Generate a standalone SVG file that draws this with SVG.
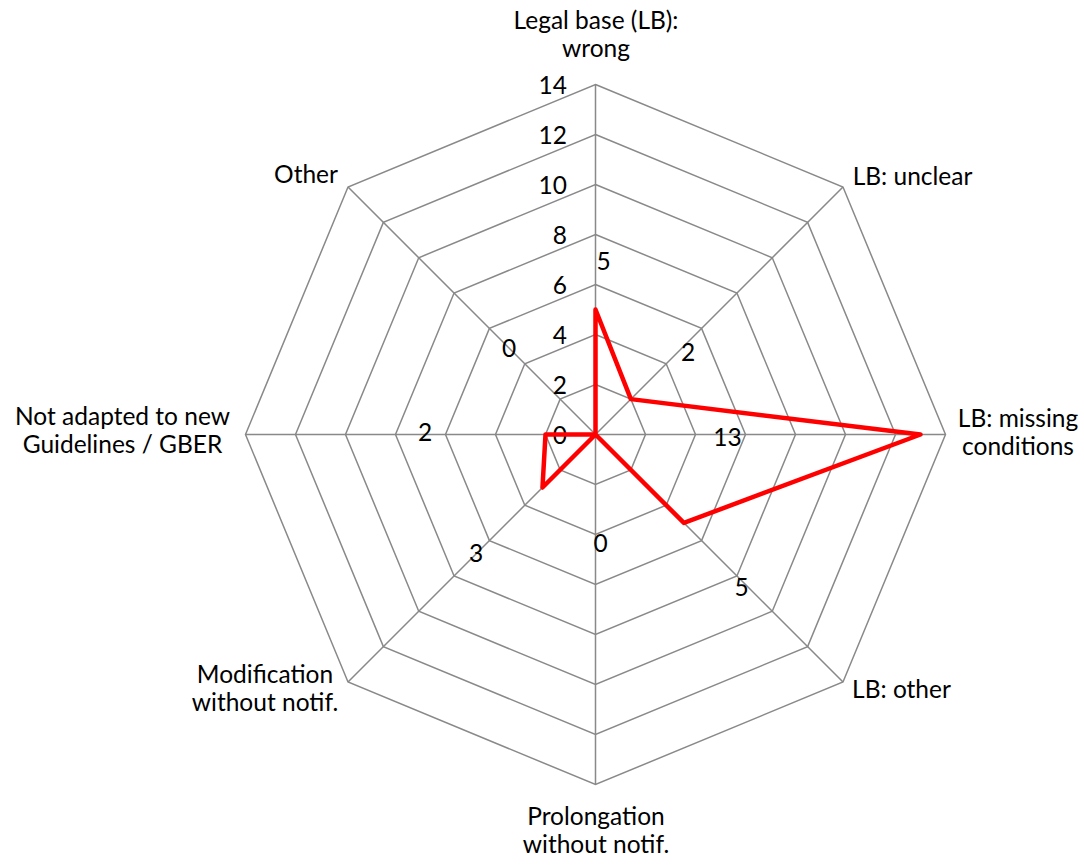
<svg xmlns="http://www.w3.org/2000/svg" width="1084" height="865" viewBox="0 0 1084 865">
<style>
.grid{fill:none;stroke:#898989;stroke-width:1.5}
.data{fill:none;stroke:#FF0000;stroke-width:4.5;stroke-linejoin:round}
text{font-family:Lato,"Open Sans","Liberation Sans",sans-serif;font-size:24.5px;fill:#000}
.m{text-anchor:middle}
.e{text-anchor:end}
</style>
<rect width="1084" height="865" fill="#fff"/>
<g id="grid">
<polygon class="grid" points="595.5,384.5 630.86,399.14 645.5,434.5 630.86,469.86 595.5,484.5 560.14,469.86 545.5,434.5 560.14,399.14"/>
<polygon class="grid" points="595.5,334.5 666.21,363.79 695.5,434.5 666.21,505.21 595.5,534.5 524.79,505.21 495.5,434.5 524.79,363.79"/>
<polygon class="grid" points="595.5,284.5 701.57,328.43 745.5,434.5 701.57,540.57 595.5,584.5 489.43,540.57 445.5,434.5 489.43,328.43"/>
<polygon class="grid" points="595.5,234.5 736.92,293.08 795.5,434.5 736.92,575.92 595.5,634.5 454.08,575.92 395.5,434.5 454.08,293.08"/>
<polygon class="grid" points="595.5,184.5 772.28,257.72 845.5,434.5 772.28,611.28 595.5,684.5 418.72,611.28 345.5,434.5 418.72,257.72"/>
<polygon class="grid" points="595.5,134.5 807.63,222.37 895.5,434.5 807.63,646.63 595.5,734.5 383.37,646.63 295.5,434.5 383.37,222.37"/>
<polygon class="grid" points="595.5,84.5 842.99,187.01 945.5,434.5 842.99,682 595.5,784.5 348.01,682 245.5,434.5 348.01,187.01"/>
</g>
<g id="spokes">
<path class="grid" d="M595.5,434.5V84.5M595.5,434.5L842.99,187.01M595.5,434.5H945.5M595.5,434.5L842.99,682M595.5,434.5V784.5M595.5,434.5L348.01,682M595.5,434.5H245.5M595.5,434.5L348.01,187.01"/>
</g>
<g id="axis-labels">
<text class="e" x="567" y="443.5">0</text>
<text class="e" x="567" y="393.5">2</text>
<text class="e" x="567" y="343.5">4</text>
<text class="e" x="567" y="293.5">6</text>
<text class="e" x="567" y="243.5">8</text>
<text class="e" x="567" y="193.5">10</text>
<text class="e" x="567" y="143.5">12</text>
<text class="e" x="567" y="93.5">14</text>
</g>
<g id="series">
<polygon class="data" points="595.5,309.5 630.86,399.14 920.5,434.5 683.89,522.89 595.5,434.5 542.47,487.53 545.5,434.5 595.5,434.5"/>
</g>
<g id="data-labels">
<text class="m" x="603.5" y="270">5</text>
<text class="m" x="688" y="361">2</text>
<text class="m" x="727.5" y="446">13</text>
<text class="m" x="741.5" y="596">5</text>
<text class="m" x="600.5" y="552">0</text>
<text class="m" x="476" y="562">3</text>
<text class="m" x="425" y="441">2</text>
<text class="m" x="509" y="357">0</text>
</g>
<g id="cat-legal-base-wrong"><text class="m" x="596" y="29">Legal base (LB):</text><text class="m" x="596" y="57">wrong</text></g>
<g id="cat-lb-unclear"><text class="m" x="912.5" y="185">LB: unclear</text></g>
<g id="cat-lb-missing"><text class="m" x="1018" y="427">LB: missing</text><text class="m" x="1018" y="455">conditions</text></g>
<g id="cat-lb-other"><text class="m" x="901.5" y="698">LB: other</text></g>
<g id="cat-prolongation"><text class="m" x="596" y="825">Prolongation</text><text class="m" x="596" y="853">without notif.</text></g>
<g id="cat-modification"><text class="m" x="265" y="683">Modification</text><text class="m" x="265" y="711">without notif.</text></g>
<g id="cat-not-adapted"><text class="m" x="122.5" y="425">Not adapted to new</text><text class="m" x="122.5" y="453">Guidelines / GBER</text></g>
<g id="cat-other"><text class="m" x="306" y="183">Other</text></g>
</svg>
